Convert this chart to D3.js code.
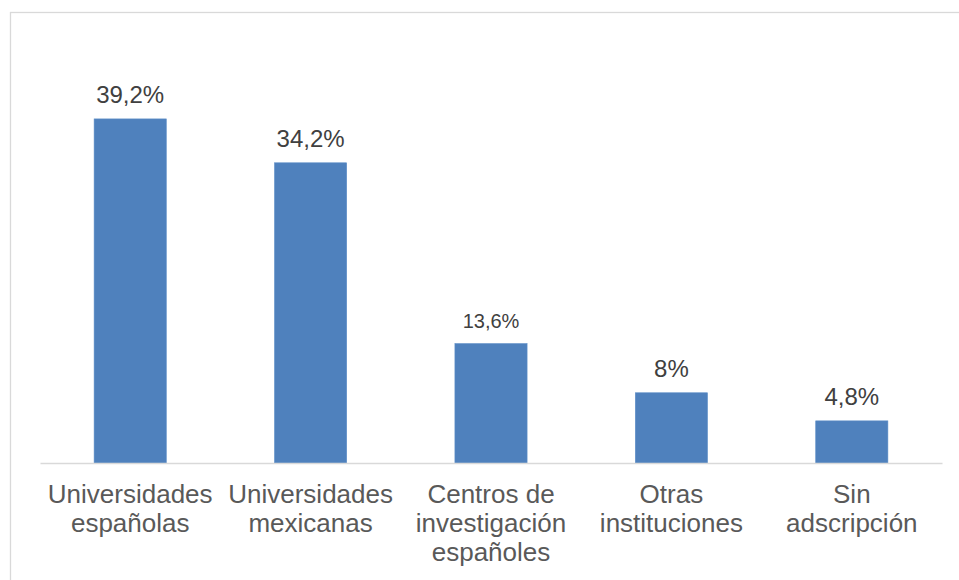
<!DOCTYPE html>
<html>
<head>
<meta charset="utf-8">
<script src="https://cdn.jsdelivr.net/npm/d3@7"></script>
<style>
  html, body { margin: 0; padding: 0; background: #ffffff; }
  svg { display: block; }
</style>
</head>
<body>
<svg id="chart" width="959" height="580"></svg>
<script>
// ---- Data ----
const categories = [
  "Universidades españolas",
  "Universidades mexicanas",
  "Centros de investigación españoles",
  "Otras instituciones",
  "Sin adscripción"
];
const values = [39.2, 34.2, 13.6, 8, 4.8];
const valueLabels = ["39,2%", "34,2%", "13,6%", "8%", "4,8%"];

// ---- Layout ----
const W = 959, H = 580;
const svg = d3.select("#chart");
const font = "'Liberation Sans', Arial, Helvetica, sans-serif";

// outer chart frame
svg.append("rect")
  .attr("x", 10.5).attr("y", 12.5)
  .attr("width", 980).attr("height", 620)
  .attr("fill", "#ffffff")
  .attr("stroke", "#d9d9d9").attr("stroke-width", 1.3);

const x = d3.scaleBand().domain(categories).range([40, 942]).padding(0);
const y = d3.scaleLinear().domain([0, 45]).range([463, 68]);
const barW = x.bandwidth() * 0.4;

// bars
svg.append("g").selectAll("rect")
  .data(categories)
  .join("rect")
  .attr("x", (d) => x(d) + x.bandwidth() / 2 - barW / 2)
  .attr("y", (d, i) => y(values[i]))
  .attr("width", barW)
  .attr("height", (d, i) => y(0) - y(values[i]))
  .attr("fill", "#4f81bd")
  .attr("stroke", "#5b8cc6").attr("stroke-width", 0.6);

// value labels
const smallLabel = new Set([2]);
svg.append("g").selectAll("text")
  .data(categories)
  .join("text")
  .attr("x", (d) => x(d) + x.bandwidth() / 2)
  .attr("y", (d, i) => y(values[i]) - 16)
  .attr("text-anchor", "middle")
  .attr("font-family", font)
  .attr("font-size", (d, i) => smallLabel.has(i) ? 20 : 24)
  .attr("fill", "#404040")
  .text((d, i) => valueLabels[i]);

// x axis
const axis = svg.append("g")
  .attr("transform", `translate(0,${y(0)})`)
  .call(d3.axisBottom(x).tickSize(0).tickPadding(0));
axis.select(".domain").attr("stroke", "#d9d9d9").attr("stroke-width", 1.5);
axis.selectAll(".tick text")
  .attr("font-family", font)
  .attr("font-size", 26)
  .attr("fill", "#595959")
  .attr("dy", null)
  .attr("y", 0)
  .each(function () { wrap(d3.select(this), x.bandwidth() - 10); });

function wrap(text, width) {
  const words = text.text().split(/\s+/);
  text.text(null);
  let lines = [];
  let line = [];
  let tspan = text.append("tspan").attr("x", 0);
  words.forEach((w) => {
    line.push(w);
    tspan.text(line.join(" "));
    if (tspan.node().getComputedTextLength() > width && line.length > 1) {
      line.pop();
      lines.push(line.join(" "));
      line = [w];
      tspan.text(w);
    }
  });
  lines.push(line.join(" "));
  text.text(null);
  lines.forEach((l, i) => {
    text.append("tspan")
      .attr("x", 0)
      .attr("dy", i === 0 ? 40 : 29)
      .text(l);
  });
}
</script>
</body>
</html>
